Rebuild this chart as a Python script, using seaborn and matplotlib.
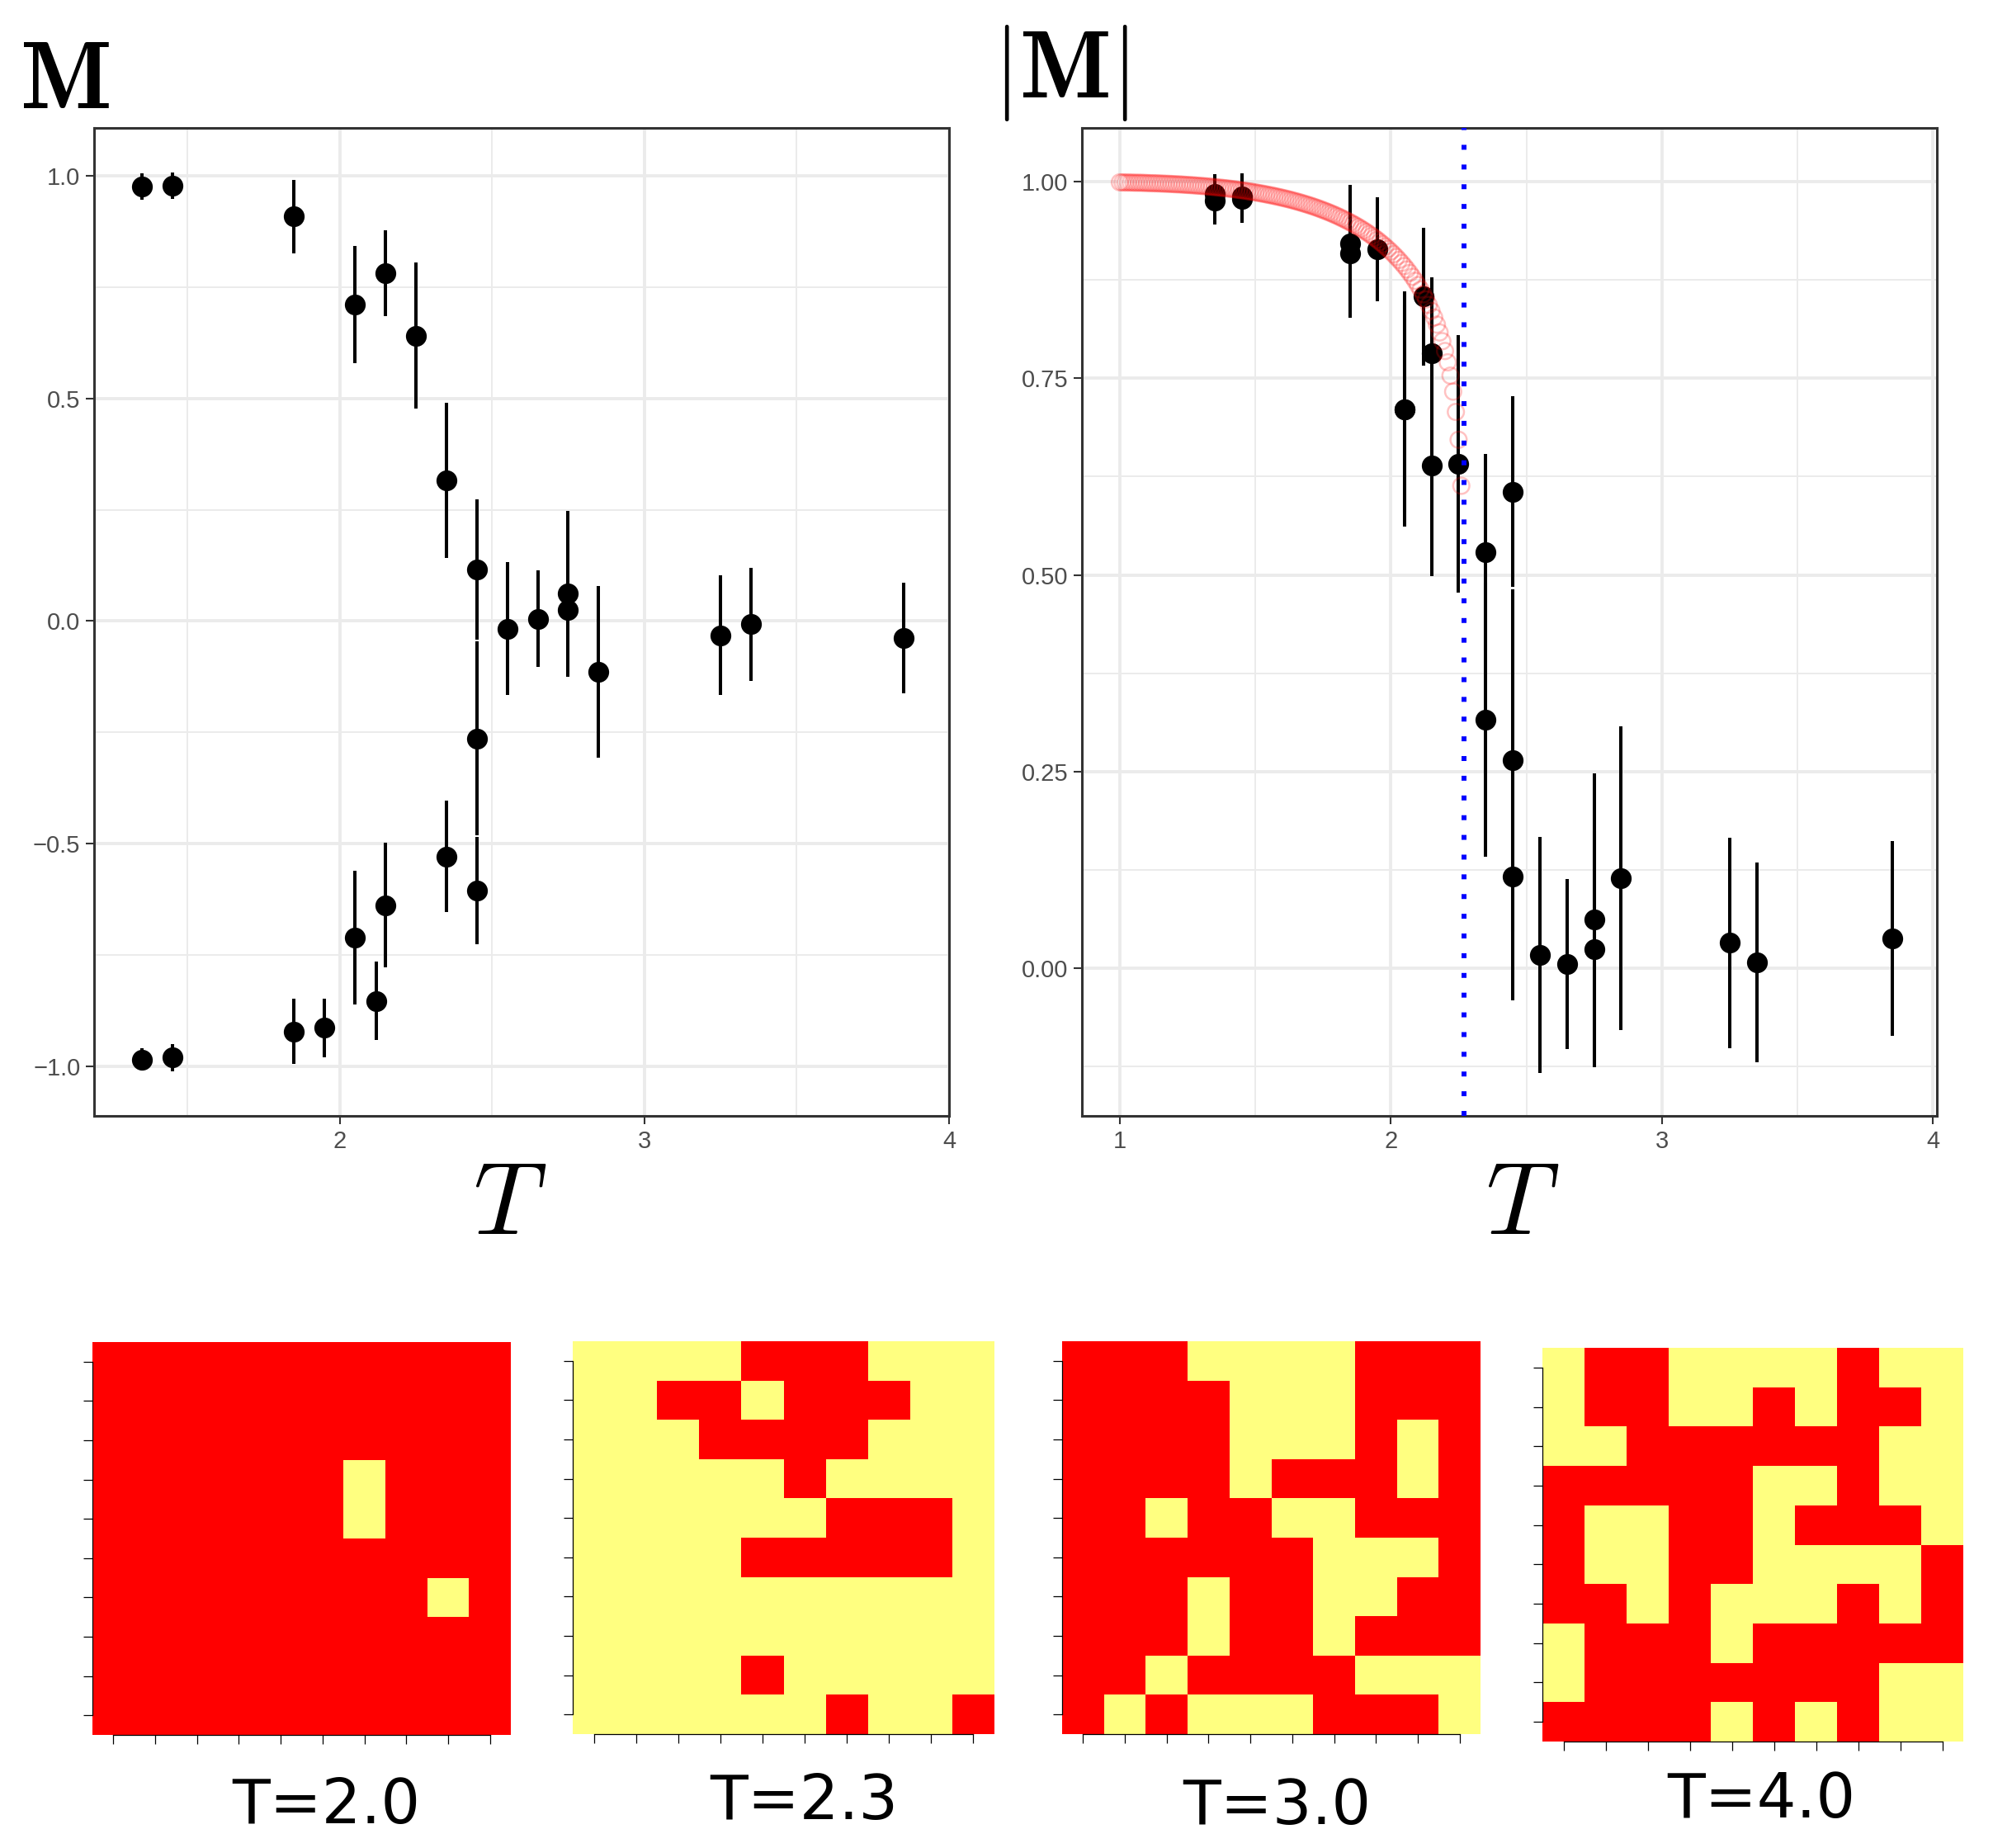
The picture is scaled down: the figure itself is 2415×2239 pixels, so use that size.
"""
Ising model figure: signed and absolute magnetisation against temperature,
with four sample 10x10 spin lattices underneath.
"""

import numpy as np
import matplotlib
matplotlib.use("Agg")
import matplotlib.pyplot as plt
from matplotlib.colors import ListedColormap
from matplotlib.ticker import MultipleLocator, FuncFormatter
import seaborn as sns

# ---------------------------------------------------------------- data
# Simulated magnetisation, branch that ends up positive at low T
T_upper = [1.35, 1.45, 1.85, 2.05, 2.15, 2.25, 2.35, 2.45,
           2.55, 2.65, 2.75, 2.75, 2.85, 3.25, 3.35, 3.85]
M_upper = [0.976, 0.978, 0.909, 0.711, 0.782, 0.641, 0.316, 0.116,
           -0.017, 0.005, 0.062, 0.024, -0.114, -0.032, -0.007, -0.038]
err_upper = [0.030, 0.030, 0.082, 0.132, 0.096, 0.164, 0.174, 0.157,
             0.150, 0.108, 0.186, 0.150, 0.193, 0.134, 0.127, 0.124]

# Branch that ends up negative at low T
T_lower = [1.35, 1.45, 1.85, 1.95, 2.05, 2.12, 2.15, 2.35, 2.45, 2.45]
M_lower = [-0.985, -0.981, -0.922, -0.914, -0.711, -0.854, -0.639,
           -0.529, -0.264, -0.606]
err_lower = [0.025, 0.030, 0.074, 0.066, 0.150, 0.088, 0.140,
             0.125, 0.218, 0.121]

# Exact (Onsager) curve, drawn as faint open circles
onsager_T = [
    1.00, 1.01, 1.02, 1.03, 1.04, 1.05, 1.06, 1.07, 1.08, 1.09,
    1.10, 1.11, 1.12, 1.13, 1.14, 1.15, 1.16, 1.17, 1.18, 1.19,
    1.20, 1.21, 1.22, 1.23, 1.24, 1.25, 1.26, 1.27, 1.28, 1.29,
    1.30, 1.31, 1.32, 1.33, 1.34, 1.35, 1.36, 1.37, 1.38, 1.39,
    1.40, 1.41, 1.42, 1.43, 1.44, 1.45, 1.46, 1.47, 1.48, 1.49,
    1.50, 1.51, 1.52, 1.53, 1.54, 1.55, 1.56, 1.57, 1.58, 1.59,
    1.60, 1.61, 1.62, 1.63, 1.64, 1.65, 1.66, 1.67, 1.68, 1.69,
    1.70, 1.71, 1.72, 1.73, 1.74, 1.75, 1.76, 1.77, 1.78, 1.79,
    1.80, 1.81, 1.82, 1.83, 1.84, 1.85, 1.86, 1.87, 1.88, 1.89,
    1.90, 1.91, 1.92, 1.93, 1.94, 1.95, 1.96, 1.97, 1.98, 1.99,
    2.00, 2.01, 2.02, 2.03, 2.04, 2.05, 2.06, 2.07, 2.08, 2.09,
    2.10, 2.11, 2.12, 2.13, 2.14, 2.15, 2.16, 2.17, 2.18, 2.19,
    2.20, 2.21, 2.22, 2.23, 2.24, 2.25, 2.26,
]
onsager_M = [
    0.9993, 0.9992, 0.9991, 0.9991, 0.9990, 0.9989, 0.9988, 0.9988, 0.9987, 0.9986,
    0.9984, 0.9983, 0.9982, 0.9981, 0.9980, 0.9978, 0.9977, 0.9975, 0.9974, 0.9972,
    0.9970, 0.9968, 0.9967, 0.9965, 0.9962, 0.9960, 0.9958, 0.9956, 0.9953, 0.9950,
    0.9948, 0.9945, 0.9942, 0.9939, 0.9936, 0.9932, 0.9929, 0.9925, 0.9922, 0.9918,
    0.9914, 0.9910, 0.9905, 0.9901, 0.9896, 0.9892, 0.9887, 0.9882, 0.9876, 0.9871,
    0.9865, 0.9859, 0.9853, 0.9847, 0.9840, 0.9833, 0.9827, 0.9819, 0.9812, 0.9804,
    0.9796, 0.9788, 0.9780, 0.9771, 0.9762, 0.9752, 0.9743, 0.9733, 0.9722, 0.9712,
    0.9701, 0.9690, 0.9678, 0.9666, 0.9653, 0.9640, 0.9627, 0.9613, 0.9599, 0.9584,
    0.9569, 0.9553, 0.9536, 0.9520, 0.9502, 0.9484, 0.9465, 0.9446, 0.9426, 0.9405,
    0.9383, 0.9361, 0.9337, 0.9313, 0.9288, 0.9262, 0.9234, 0.9206, 0.9176, 0.9145,
    0.9113, 0.9079, 0.9044, 0.9007, 0.8968, 0.8928, 0.8885, 0.8840, 0.8792, 0.8741,
    0.8687, 0.8630, 0.8569, 0.8504, 0.8434, 0.8358, 0.8275, 0.8184, 0.8084, 0.7973,
    0.7848, 0.7704, 0.7535, 0.7331, 0.7073, 0.6719, 0.6134,
]
T_CRIT = 2.269

# Spin snapshots, row by row from the top: 1 = red spin, 0 = yellow spin
spins_T20 = [
    [1, 1, 1, 1, 1, 1, 1, 1, 1, 1],
    [1, 1, 1, 1, 1, 1, 1, 1, 1, 1],
    [1, 1, 1, 1, 1, 1, 1, 1, 1, 1],
    [1, 1, 1, 1, 1, 1, 0, 1, 1, 1],
    [1, 1, 1, 1, 1, 1, 0, 1, 1, 1],
    [1, 1, 1, 1, 1, 1, 1, 1, 1, 1],
    [1, 1, 1, 1, 1, 1, 1, 1, 0, 1],
    [1, 1, 1, 1, 1, 1, 1, 1, 1, 1],
    [1, 1, 1, 1, 1, 1, 1, 1, 1, 1],
    [1, 1, 1, 1, 1, 1, 1, 1, 1, 1],
]
spins_T23 = [
    [0, 0, 0, 0, 1, 1, 1, 0, 0, 0],
    [0, 0, 1, 1, 0, 1, 1, 1, 0, 0],
    [0, 0, 0, 1, 1, 1, 1, 0, 0, 0],
    [0, 0, 0, 0, 0, 1, 0, 0, 0, 0],
    [0, 0, 0, 0, 0, 0, 1, 1, 1, 0],
    [0, 0, 0, 0, 1, 1, 1, 1, 1, 0],
    [0, 0, 0, 0, 0, 0, 0, 0, 0, 0],
    [0, 0, 0, 0, 0, 0, 0, 0, 0, 0],
    [0, 0, 0, 0, 1, 0, 0, 0, 0, 0],
    [0, 0, 0, 0, 0, 0, 1, 0, 0, 1],
]
spins_T30 = [
    [1, 1, 1, 0, 0, 0, 0, 1, 1, 1],
    [1, 1, 1, 1, 0, 0, 0, 1, 1, 1],
    [1, 1, 1, 1, 0, 0, 0, 1, 0, 1],
    [1, 1, 1, 1, 0, 1, 1, 1, 0, 1],
    [1, 1, 0, 1, 1, 0, 0, 1, 1, 1],
    [1, 1, 1, 1, 1, 1, 0, 0, 0, 1],
    [1, 1, 1, 0, 1, 1, 0, 0, 1, 1],
    [1, 1, 1, 0, 1, 1, 0, 1, 1, 1],
    [1, 1, 0, 1, 1, 1, 1, 0, 0, 0],
    [1, 0, 1, 0, 0, 0, 1, 1, 1, 0],
]
spins_T40 = [
    [0, 1, 1, 0, 0, 0, 0, 1, 0, 0],
    [0, 1, 1, 0, 0, 1, 0, 1, 1, 0],
    [0, 0, 1, 1, 1, 1, 1, 1, 0, 0],
    [1, 1, 1, 1, 1, 0, 0, 1, 0, 0],
    [1, 0, 0, 1, 1, 0, 1, 1, 1, 0],
    [1, 0, 0, 1, 1, 0, 0, 0, 0, 1],
    [1, 1, 0, 1, 0, 0, 0, 1, 0, 1],
    [0, 1, 1, 1, 0, 1, 1, 1, 1, 1],
    [0, 1, 1, 1, 1, 1, 1, 1, 0, 0],
    [1, 1, 1, 1, 0, 1, 0, 1, 0, 0],
]
lattice_labels = ["T=2.0", "T=2.3", "T=3.0", "T=4.0"]

# ---------------------------------------------------------------- layout
W, H = 2415, 2239  # output size in pixels (dpi 100)
DPI = 100

# boxes as (x0, y0, x1, y1) in pixels from the top-left corner
LEFT_BOX = (114, 155, 1150, 1352)
RIGHT_BOX = (1311, 155, 2347, 1352)
LATTICE_BOXES = [
    (112, 1626, 619, 2102),
    (694, 1625, 1205, 2101),
    (1287, 1625, 1794, 2101),
    (1869, 1633, 2379, 2110),
]
# (centre x, baseline y) of each lattice label
LATTICE_LABEL_POS = [(395, 2209), (974, 2204), (1547, 2210), (2134, 2202)]

GRID_COLOUR = "#EBEBEB"
BORDER_COLOUR = "#333333"
TICKLABEL_COLOUR = "#4D4D4D"
SPIN_CMAP = ListedColormap(["#FFFF80", "#FF0000"])


def px_box(box):
    """Turn a pixel box (x0, y0, x1, y1) into figure coordinates."""
    x0, y0, x1, y1 = box
    return [x0 / W, 1 - y1 / H, (x1 - x0) / W, (y1 - y0) / H]


def fig_xy(x, y):
    return x / W, 1 - y / H


def minus_formatter(decimals):
    """Tick formatter with a real minus sign, like the original."""
    def fmt(v, _pos):
        if abs(v) < 1e-9:
            v = 0.0
        return f"{v:.{decimals}f}".replace("-", "\u2212")
    return FuncFormatter(fmt)


def style_panel(ax, xlim, ylim, x_major, y_major, x_dec, y_dec):
    """ggplot theme_bw look: grey grid, dark border, grey tick labels."""
    ax.set_xlim(*xlim)
    ax.set_ylim(*ylim)
    ax.xaxis.set_major_locator(MultipleLocator(x_major))
    ax.xaxis.set_minor_locator(MultipleLocator(x_major / 2))
    ax.yaxis.set_major_locator(MultipleLocator(y_major))
    ax.yaxis.set_minor_locator(MultipleLocator(y_major / 2))
    ax.xaxis.set_major_formatter(minus_formatter(x_dec))
    ax.yaxis.set_major_formatter(minus_formatter(y_dec))

    ax.set_axisbelow(True)
    ax.grid(which="major", color=GRID_COLOUR, linewidth=2.8)
    ax.grid(which="minor", color=GRID_COLOUR, linewidth=1.4)

    for spine in ax.spines.values():
        spine.set_visible(True)
        spine.set_color(BORDER_COLOUR)
        spine.set_linewidth(2.2)

    ax.tick_params(which="major", length=7, width=1.5, color=BORDER_COLOUR,
                   pad=5, labelsize=21, labelcolor=TICKLABEL_COLOUR,
                   bottom=True, left=True)
    ax.tick_params(which="minor", length=0)
    for lab in ax.get_xticklabels() + ax.get_yticklabels():
        lab.set_family("Liberation Sans")
    ax.set_xlabel("")
    ax.set_ylabel("")


def draw_points(ax, T, M, err):
    ax.vlines(T, np.asarray(M) - np.asarray(err), np.asarray(M) + np.asarray(err),
              color="black", linewidth=2.9, zorder=2)
    sns.scatterplot(x=T, y=M, ax=ax, color="black", s=330, linewidth=0,
                    zorder=3, legend=False)


def draw_lattice(ax, spins):
    sns.heatmap(np.array(spins), ax=ax, cmap=SPIN_CMAP, vmin=0, vmax=1,
                cbar=False, xticklabels=False, yticklabels=False)
    ticks = np.arange(len(spins[0])) + 0.5
    ax.set_xticks(ticks)
    ax.set_yticks(np.arange(len(spins)) + 0.5)
    ax.set_xticklabels([])
    ax.set_yticklabels([])
    ax.tick_params(length=8, width=0.9, color="black", direction="out",
                   bottom=True, left=True, labelbottom=False, labelleft=False)
    for name, spine in ax.spines.items():
        spine.set_visible(name in ("left", "bottom"))
        spine.set_color("black")
        spine.set_linewidth(0.9)
    ax.spines["left"].set_bounds(ticks[0], ticks[-1])
    ax.spines["bottom"].set_bounds(ticks[0], ticks[-1])
    ax.set_xlabel("")
    ax.set_ylabel("")


def main():
    sns.set_theme(style="white")
    plt.rcParams["font.family"] = ["DejaVu Sans"]
    plt.rcParams["mathtext.fontset"] = "cm"
    plt.rcParams["axes.unicode_minus"] = True
    plt.rcParams["text.color"] = "black"

    fig = plt.figure(figsize=(W / DPI, H / DPI), dpi=DPI)
    fig.patch.set_facecolor("white")

    # ---- left: signed magnetisation
    ax_m = fig.add_axes(px_box(LEFT_BOX))
    draw_points(ax_m, T_upper, M_upper, err_upper)
    draw_points(ax_m, T_lower, M_lower, err_lower)
    style_panel(ax_m, (1.194, 4.0), (-1.112, 1.108), 1.0, 0.5, 0, 1)

    # ---- right: absolute magnetisation with the exact curve and T_c
    ax_a = fig.add_axes(px_box(RIGHT_BOX))
    T_all = T_upper + T_lower
    absM_all = np.abs(np.array(M_upper + M_lower))
    err_all = err_upper + err_lower
    draw_points(ax_a, T_all, absM_all, err_all)
    ax_a.scatter(onsager_T, onsager_M, s=200, facecolors="none",
                 edgecolors="red", linewidths=1.8, alpha=0.24, zorder=4)
    ax_a.axvline(T_CRIT, color="blue", linewidth=4.3,
                 linestyle=(0, (1, 3)), zorder=5)
    style_panel(ax_a, (0.86, 4.015), (-0.188, 1.0685), 1.0, 0.25, 0, 2)

    # ---- titles and axis labels (LaTeX-like lettering)
    fig.text(*fig_xy(24, 131), r"$\mathbf{M}$", fontsize=84,
             ha="left", va="baseline", color="black")
    fig.text(*fig_xy(1203, 118), r"$|\mathbf{M}|$", fontsize=84,
             ha="left", va="baseline", color="black")
    fig.text(*fig_xy(618, 1495), r"$T$", fontsize=89,
             ha="center", va="baseline", color="black")
    fig.text(*fig_xy(1845, 1495), r"$T$", fontsize=89,
             ha="center", va="baseline", color="black")

    # ---- lattice snapshots
    lattices = [spins_T20, spins_T23, spins_T30, spins_T40]
    for spins, box, label, (lx, ly) in zip(lattices, LATTICE_BOXES,
                                           lattice_labels, LATTICE_LABEL_POS):
        ax = fig.add_axes(px_box(box))
        draw_lattice(ax, spins)
        fig.text(*fig_xy(lx, ly), label, fontsize=54, family="DejaVu Sans",
                 ha="center", va="baseline", color="black")

    fig.savefig("out.png", dpi=DPI, facecolor="white")
    plt.close(fig)


if __name__ == "__main__":
    main()
